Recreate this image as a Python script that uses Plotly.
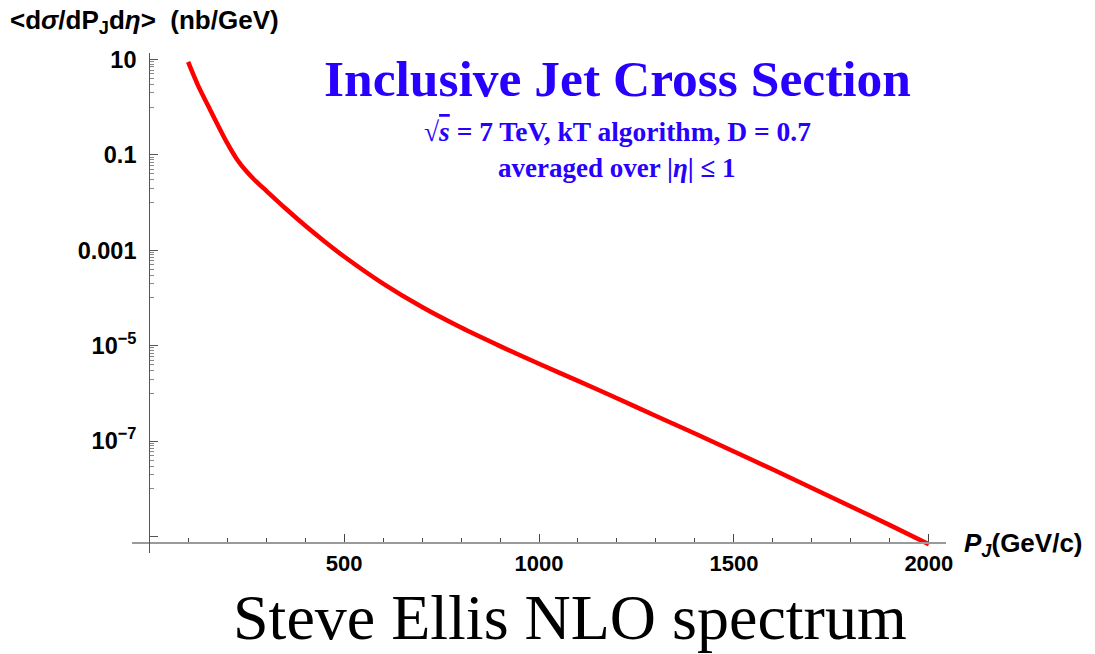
import math
import plotly.graph_objects as go

# Inclusive jet cross section (NLO), averaged over |eta| <= 1, sqrt(s) = 7 TeV
pt_gev = [100, 125, 150, 175, 200, 225, 250, 275, 300, 350, 400, 450, 500, 600, 700,
          800, 900, 1000, 1100, 1200, 1300, 1400, 1500, 1600, 1700, 1800, 1900, 2000]
xsec_nb_per_gev = [8.9, 2.9, 1.12, 0.44, 0.178, 0.0813, 0.0447, 0.0275, 0.0178,
                   7.5e-3, 3.3e-3, 1.53e-3, 7.4e-4, 2.0e-4, 6.45e-5, 2.4e-5, 9.8e-6,
                   4.17e-6, 1.83e-6, 7.9e-7, 3.37e-7, 1.44e-7, 6.07e-8, 2.53e-8,
                   1.04e-8, 4.25e-9, 1.73e-9, 6.9e-10]

x_major = [500, 1000, 1500, 2000]
x_minor = [v for v in range(100, 2000, 100) if v % 500 != 0]
y_major = [10, 0.1, 0.001, 1e-5, 1e-7, 1e-9]
y_major_text = ["10", "0.1", "0.001", "10<sup>\u22125</sup>", "10<sup>\u22127</sup>", ""]
y_minor = []
for k in [1, -1, -3, -5, -7]:
    y_minor += [m * 10 ** (k - 1) for m in range(2, 10)] + [10 ** (k - 1)]

X_RANGE = [-44, 2044]
Y_RANGE = [-9.346, 1.136]          # log10 units
Y_CROSS = 10 ** -9.14              # where the horizontal axis sits

W, H = 1095, 654
M = dict(l=132, r=149, t=53, b=101)
PW = W - M["l"] - M["r"]
PH = H - M["t"] - M["b"]


def px(x):
    return (x - M["l"]) / PW


def py(y):
    return (H - M["b"] - y) / PH


BLUE = "rgb(40,0,255)"
SANS = "Liberation Sans, Arial, sans-serif"
SERIF = "Liberation Serif, Times New Roman, serif"

fig = go.Figure()
fig.add_trace(go.Scatter(
    x=pt_gev, y=xsec_nb_per_gev, mode="lines",
    line=dict(color="#ff0000", width=4.5, shape="spline", smoothing=0.8),
    hoverinfo="skip", showlegend=False,
))

x_pos = (0 - X_RANGE[0]) / (X_RANGE[1] - X_RANGE[0])
y_pos = (math.log10(Y_CROSS) - Y_RANGE[0]) / (Y_RANGE[1] - Y_RANGE[0])

fig.update_layout(
    width=W, height=H, margin=M,
    paper_bgcolor="white", plot_bgcolor="white",
    xaxis=dict(
        range=X_RANGE, anchor="free", position=y_pos,
        showgrid=False, zeroline=False,
        showline=True, linecolor="#9a9a9a", linewidth=2,
        ticks="inside", ticklen=8, tickwidth=1, tickcolor="#444",
        tickmode="array", tickvals=x_major,
        tickfont=dict(family=SANS, size=22, color="black", weight="bold"),
        minor=dict(tickmode="array", tickvals=x_minor, ticks="inside",
                   ticklen=4, tickwidth=1, tickcolor="#444", showgrid=False),
    ),
    yaxis=dict(
        type="log", range=Y_RANGE, anchor="free", position=x_pos,
        showgrid=False, zeroline=False,
        showline=True, linecolor="#555", linewidth=1,
        ticks="inside", ticklen=8, tickwidth=1, tickcolor="#555",
        tickmode="array", tickvals=y_major, ticktext=y_major_text,
        ticklabelstandoff=8,
        tickfont=dict(family=SANS, size=23.5, color="black", weight="bold"),
        minor=dict(tickmode="array", tickvals=y_minor, ticks="inside",
                   ticklen=4, tickwidth=1, tickcolor="#888", showgrid=False),
    ),
)

annotations = [
    dict(text="&lt;d<i>\u03c3</i>/dP<sub>J</sub>d<i>\u03b7</i>&gt;  (nb/GeV)",
         x=px(8), y=py(22), xanchor="left", yanchor="middle",
         font=dict(family=SANS, size=26, color="black", weight="bold")),
    dict(text="Inclusive Jet Cross Section",
         x=px(617), y=py(78), xanchor="center", yanchor="middle",
         font=dict(family=SERIF, size=51.5, color=BLUE, weight="bold")),
    dict(text="\u221a<span style='text-decoration:overline'><i>s</i></span> = 7 TeV, kT algorithm, D = 0.7",
         x=px(617), y=py(131), xanchor="center", yanchor="middle",
         font=dict(family=SERIF, size=27.5, color=BLUE, weight="bold")),
    dict(text="averaged over |<i>\u03b7</i>| \u2264 1",
         x=px(617), y=py(168), xanchor="center", yanchor="middle",
         font=dict(family=SERIF, size=27, color=BLUE, weight="bold")),
    dict(text="<i>P<sub>J</sub></i>(GeV/c)",
         x=px(962), y=py(544), xanchor="left", yanchor="middle",
         font=dict(family=SANS, size=26, color="black", weight="bold")),
    dict(text="Steve Ellis NLO spectrum",
         x=px(570), y=py(617), xanchor="center", yanchor="middle",
         borderpad=0,
         font=dict(family=SERIF, size=64, color="black")),
]
for a in annotations:
    a.update(xref="paper", yref="paper", showarrow=False)
fig.update_layout(annotations=annotations)

fig.write_html("out.html")
